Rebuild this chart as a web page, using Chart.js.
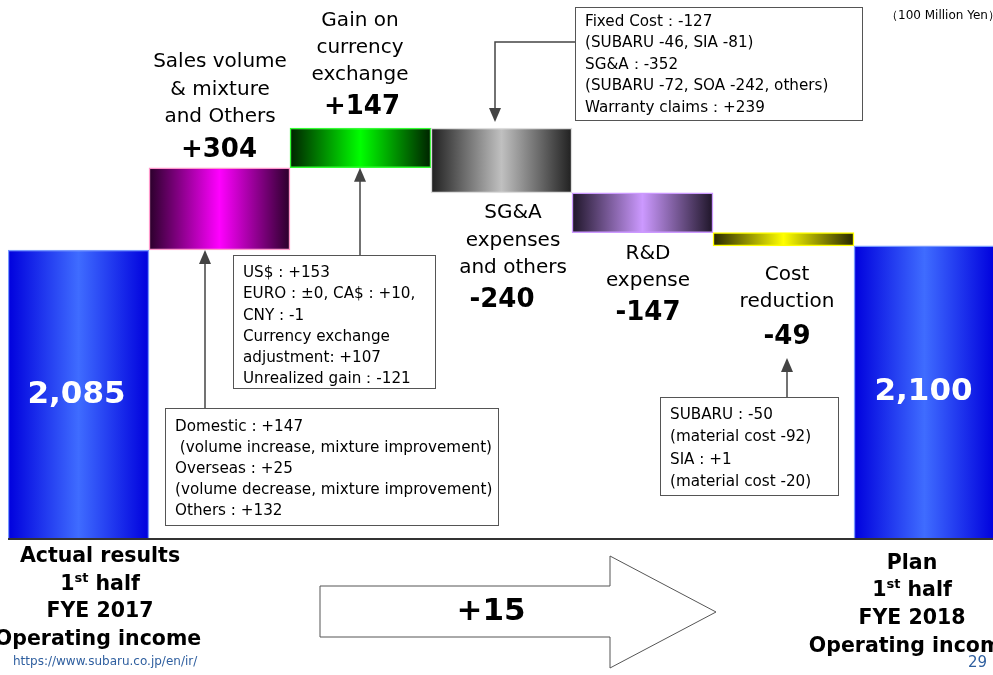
<!DOCTYPE html>
<html>
<head>
<meta charset="utf-8">
<script src="https://cdn.jsdelivr.net/npm/chart.js@4"></script>
<style>
  html, body { margin: 0; padding: 0; overflow: hidden; background: #fff; }
  #wrap { position: relative; width: 1000px; height: 675px; }
</style>
</head>
<body>
<div id="wrap"><canvas id="myChart"></canvas></div>
<script>
'use strict';

// chart data (100 million yen)
let categories = ['Actual results 1st half FYE 2017', 'Sales volume & mixture and Others', 'Gain on currency exchange',
  'SG&A expenses and others', 'R&D expense', 'Cost reduction', 'Plan 1st half FYE 2018'];
let startValue = 2085;
let endValue = 2100;
let changes = [304, 147, -240, -147, -49];
let valueLabels = ['2,085', '+304', '+147', '-240', '-147', '-49', '2,100'];
let totalChange = '+15';

// axis is cut, bars start from here
let axisMin = 1013;
let axisMax = 3009;

// edge colour, middle colour, border colour
let barColors = [
  ['#0000dd', '#3f6cff', '#7799ff'],
  ['#2a002a', '#ff00ff', '#ff99cc'],
  ['#002200', '#00ff00', '#33ff33'],
  ['#202020', '#c0c0c0', '#dddddd'],
  ['#1e1528', '#cc99ff', '#cc99ff'],
  ['#262600', '#ffff00', '#ffff00'],
  ['#0000dd', '#3f6cff', '#7799ff']
];

let barData = [startValue];
let running = startValue;
for (let i = 0; i < changes.length; i++) {
  let next = running + changes[i];
  barData.push([Math.min(running, next), Math.max(running, next)]);
  running = next;
}
barData.push(endValue);

function barFill(c) {
  let chart = c.chart;
  let col = barColors[c.dataIndex];
  if (!chart.chartArea || !chart.scales.x) {
    return col[1];
  }
  let area = chart.chartArea;
  let half = (area.right - area.left) / categories.length / 2;
  let x = chart.scales.x.getPixelForValue(c.dataIndex);
  let g = chart.ctx.createLinearGradient(x - half, 0, x + half, 0);
  g.addColorStop(0, col[0]);
  g.addColorStop(0.5, col[1]);
  g.addColorStop(1, col[0]);
  return g;
}

function lines(ctx, arr, x, y, step) {
  for (let i = 0; i < arr.length; i++) {
    ctx.fillText(arr[i], x, y + i * step);
  }
}

function arrowUp(ctx, x, y1, y2) {
  // line from y1 (bottom) to y2 (tip)
  ctx.strokeStyle = '#444';
  ctx.fillStyle = '#444';
  ctx.lineWidth = 1.5;
  ctx.beginPath();
  ctx.moveTo(x, y1);
  ctx.lineTo(x, y2 + 12);
  ctx.stroke();
  ctx.beginPath();
  ctx.moveTo(x, y2);
  ctx.lineTo(x - 6, y2 + 14);
  ctx.lineTo(x + 6, y2 + 14);
  ctx.closePath();
  ctx.fill();
}

function box(ctx, x, y, w, h) {
  ctx.fillStyle = '#fff';
  ctx.fillRect(x, y, w, h);
  ctx.strokeStyle = '#555';
  ctx.lineWidth = 1;
  ctx.strokeRect(x + 0.5, y + 0.5, w, h);
}

function supLine(ctx, cx, y, size) {
  // "1st half" with superscript
  let big = 'bold ' + size + 'px "DejaVu Sans"';
  let small = 'bold ' + Math.round(size * 0.62) + 'px "DejaVu Sans"';
  ctx.font = big;
  let w1 = ctx.measureText('1').width;
  let w3 = ctx.measureText(' half').width;
  ctx.font = small;
  let w2 = ctx.measureText('st').width;
  let x = cx - (w1 + w2 + w3) / 2;
  ctx.textAlign = 'left';
  ctx.font = big;
  ctx.fillText('1', x, y);
  ctx.font = small;
  ctx.fillText('st', x + w1, y - size * 0.32);
  ctx.font = big;
  ctx.fillText(' half', x + w1 + w2, y);
  ctx.textAlign = 'center';
}

let slidePlugin = {
  id: 'slide',
  afterDatasetsDraw(chart) {
    let ctx = chart.ctx;
    let xs = chart.scales.x;
    let ys = chart.scales.y;
    let area = chart.chartArea;
    ctx.save();

    // base line
    ctx.strokeStyle = '#333';
    ctx.lineWidth = 2;
    ctx.beginPath();
    ctx.moveTo(area.left, area.bottom - 1);
    ctx.lineTo(area.right, area.bottom - 1);
    ctx.stroke();

    ctx.textAlign = 'center';
    ctx.textBaseline = 'middle';

    // totals inside the blue bars
    ctx.fillStyle = '#fff';
    ctx.font = 'bold 31px "DejaVu Sans"';
    ctx.fillText(valueLabels[0], xs.getPixelForValue(0) - 2, 395);
    ctx.fillText(valueLabels[6], xs.getPixelForValue(6) - 1, 392);

    // step labels
    ctx.fillStyle = '#000';
    ctx.font = '20px "DejaVu Sans"';
    lines(ctx, ['Sales volume', '& mixture', 'and Others'], 220, 62, 27.5);
    lines(ctx, ['Gain on', 'currency', 'exchange'], 360, 21, 27);
    lines(ctx, ['SG&A', 'expenses', 'and others'], 513, 213, 27.5);
    lines(ctx, ['R&D', 'expense'], 648, 254, 27);
    lines(ctx, ['Cost', 'reduction'], 787, 275, 27);
    ctx.font = 'bold 26px "DejaVu Sans"';
    ctx.fillText(valueLabels[1], 219, 150);
    ctx.fillText(valueLabels[2], 362, 107);
    ctx.fillText(valueLabels[3], 502, 300);
    ctx.fillText(valueLabels[4], 648, 313);
    ctx.fillText(valueLabels[5], 787, 337);

    // callout arrows
    arrowUp(ctx, 205, 408, ys.getPixelForValue(barData[1][0]));
    arrowUp(ctx, 360, 255, ys.getPixelForValue(barData[2][0]));
    arrowUp(ctx, 787, 397, 358);
    // SG&A box connector, arrow pointing down
    ctx.strokeStyle = '#444';
    ctx.fillStyle = '#444';
    ctx.lineWidth = 1.5;
    let topGray = ys.getPixelForValue(barData[3][1]);
    ctx.beginPath();
    ctx.moveTo(575, 42);
    ctx.lineTo(495, 42);
    ctx.lineTo(495, topGray - 16);
    ctx.stroke();
    ctx.beginPath();
    ctx.moveTo(495, topGray - 6);
    ctx.lineTo(489, topGray - 20);
    ctx.lineTo(501, topGray - 20);
    ctx.closePath();
    ctx.fill();

    // detail boxes
    ctx.textAlign = 'left';
    box(ctx, 233, 255, 202, 133);
    box(ctx, 165, 408, 333, 117);
    box(ctx, 575, 7, 287, 113);
    box(ctx, 660, 397, 178, 98);
    ctx.fillStyle = '#000';
    ctx.font = '15.2px "DejaVu Sans"';
    lines(ctx, ['US$ : +153', 'EURO : \u00b10, CA$ : +10,', 'CNY : -1', 'Currency exchange',
      'adjustment: +107', 'Unrealized gain\uff1a-121'], 243, 273, 21.3);
    lines(ctx, ['Domestic : +147', ' (volume increase, mixture improvement)', 'Overseas : +25',
      '(volume decrease, mixture improvement)', 'Others : +132'], 175, 427, 21);
    lines(ctx, ['Fixed Cost\uff1a-127', '(SUBARU -46, SIA -81)', 'SG&A\uff1a-352',
      '(SUBARU -72, SOA -242, others)', 'Warranty claims\uff1a+239'], 585, 22, 21.5);
    lines(ctx, ['SUBARU : -50', '(material cost -92)', 'SIA : +1', '(material cost -20)'], 670, 415, 22.3);

    ctx.font = '12px "DejaVu Sans"';
    ctx.fillText('\uff08100 Million Yen\uff09', 886, 16);

    // bottom labels
    ctx.textAlign = 'center';
    ctx.font = 'bold 20.5px "DejaVu Sans"';
    ctx.fillText('Actual results', 100, 557);
    supLine(ctx, 100, 585, 20.5);
    ctx.font = 'bold 20.5px "DejaVu Sans"';
    ctx.fillText('FYE 2017', 100, 612);
    ctx.fillText('Operating income', 98, 640);
    ctx.fillText('Plan', 912, 564);
    supLine(ctx, 912, 591, 20.5);
    ctx.font = 'bold 20.5px "DejaVu Sans"';
    ctx.fillText('FYE 2018', 912, 619);
    ctx.fillText('Operating income', 912, 647);

    // big arrow
    ctx.fillStyle = '#fff';
    ctx.strokeStyle = '#555';
    ctx.lineWidth = 1;
    ctx.beginPath();
    ctx.moveTo(320, 586);
    ctx.lineTo(610, 586);
    ctx.lineTo(610, 556);
    ctx.lineTo(716, 612);
    ctx.lineTo(610, 668);
    ctx.lineTo(610, 637);
    ctx.lineTo(320, 637);
    ctx.closePath();
    ctx.fill();
    ctx.stroke();
    ctx.fillStyle = '#000';
    ctx.font = 'bold 31px "DejaVu Sans"';
    ctx.fillText(totalChange, 491, 612);

    // footer
    ctx.textAlign = 'left';
    ctx.fillStyle = '#2f5f9f';
    ctx.font = '12px "DejaVu Sans"';
    ctx.fillText('https://www.subaru.co.jp/en/ir/', 13, 662);
    ctx.font = '15px "DejaVu Sans"';
    ctx.fillText('29', 968, 663);
    ctx.restore();
  }
};

let ctx = document.getElementById('myChart').getContext('2d');
let myChart = new Chart(ctx, {
  type: 'bar',
  data: {
    labels: categories,
    datasets: [{
      data: barData,
      backgroundColor: barFill,
      borderColor: barColors.map(c => c[2]),
      borderWidth: 1.5,
      borderSkipped: false,
      barPercentage: 1,
      categoryPercentage: 1
    }]
  },
  options: {
    responsive: true,
    maintainAspectRatio: false,
    animation: false,
    layout: { padding: { left: 8, right: 5, top: 0, bottom: 135 } },
    plugins: { legend: { display: false }, tooltip: { enabled: false } },
    scales: {
      x: { display: false },
      y: { display: false, min: axisMin, max: axisMax }
    }
  },
  plugins: [slidePlugin]
});
</script>
</body>
</html>
